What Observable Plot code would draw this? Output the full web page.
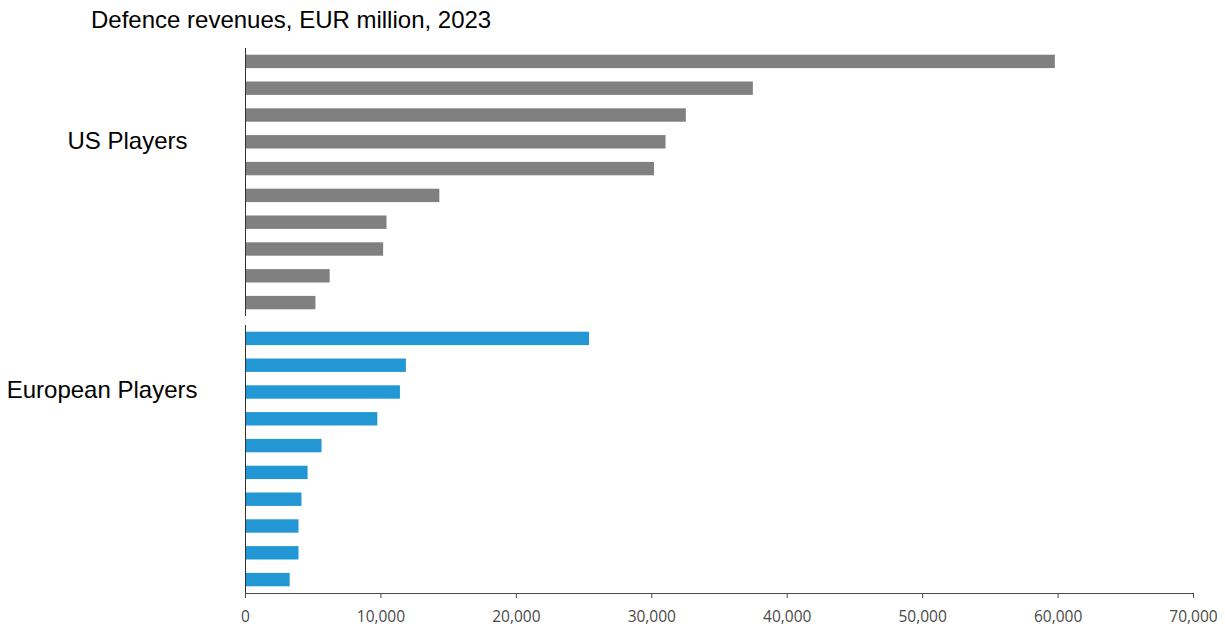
<!DOCTYPE html>
<html>
<head>
<meta charset="utf-8">
<script src="https://cdn.jsdelivr.net/npm/d3@7"></script>
<script src="https://cdn.jsdelivr.net/npm/@observablehq/plot@0.6"></script>
<style>
  body { margin: 0; background: #fff; }
  #title { height: 40px; line-height: 40px; padding-left: 91px; font-family: "Liberation Sans", Arial, sans-serif; font-size: 24px; color: #000; white-space: nowrap; }
</style>
</head>
<body>
<div id="title">Defence revenues, EUR million, 2023</div>
<div id="chart"></div>
<script>
const groups = ["US Players", "European Players"];
const ranks = [1, 2, 3, 4, 5, 6, 7, 8, 9, 10];
const usValues = [59800, 37500, 32550, 31050, 30200, 14350, 10450, 10200, 6250, 5200];
const euValues = [25400, 11880, 11440, 9770, 5650, 4620, 4170, 3950, 3950, 3300];
const xTicks = [0, 10000, 20000, 30000, 40000, 50000, 60000, 70000];
const groupColors = ["#808080", "#2297d3"];

const rows = [
  ...usValues.map((v, i) => ({group: groups[0], rank: ranks[i], value: v})),
  ...euValues.map((v, i) => ({group: groups[1], rank: ranks[i], value: v}))
];

const fmt = d3.format(",");

const chart = Plot.plot({
  width: 1225,
  height: 586,
  marginTop: 8,
  marginBottom: 33,
  marginLeft: 245,
  marginRight: 32,
  style: {fontFamily: "'Open Sans', sans-serif", fontSize: "15.5px", color: "#4a4a4a", background: "#fff"},
  x: {domain: [0, 70000], ticks: xTicks, tickFormat: fmt, tickSize: 5, tickPadding: 12, label: null, line: true},
  y: {domain: ranks, paddingInner: 0.5, paddingOuter: 0.25, round: false, axis: null},
  fy: {domain: groups, paddingInner: 0.0325, paddingOuter: 0, round: false, axis: null},
  color: {domain: groups, range: groupColors},
  marks: [
    Plot.barX(rows, {x: "value", y: "rank", fy: "group", fill: "group"}),
    Plot.ruleX([0], {stroke: "#333", strokeWidth: 1}),
    Plot.text([{group: groups[0]}], {fy: "group", text: "group", frameAnchor: "left", textAnchor: "end", dx: -58, dy: -41.5, fontSize: 24, fontFamily: "'Liberation Sans', Arial, sans-serif", fill: "#000"}),
    Plot.text([{group: groups[1]}], {fy: "group", text: "group", frameAnchor: "left", textAnchor: "end", dx: -48, dy: -69, fontSize: 24, fontFamily: "'Liberation Sans', Arial, sans-serif", fill: "#000"})
  ]
});
document.getElementById("chart").appendChild(chart);
</script>
</body>
</html>
